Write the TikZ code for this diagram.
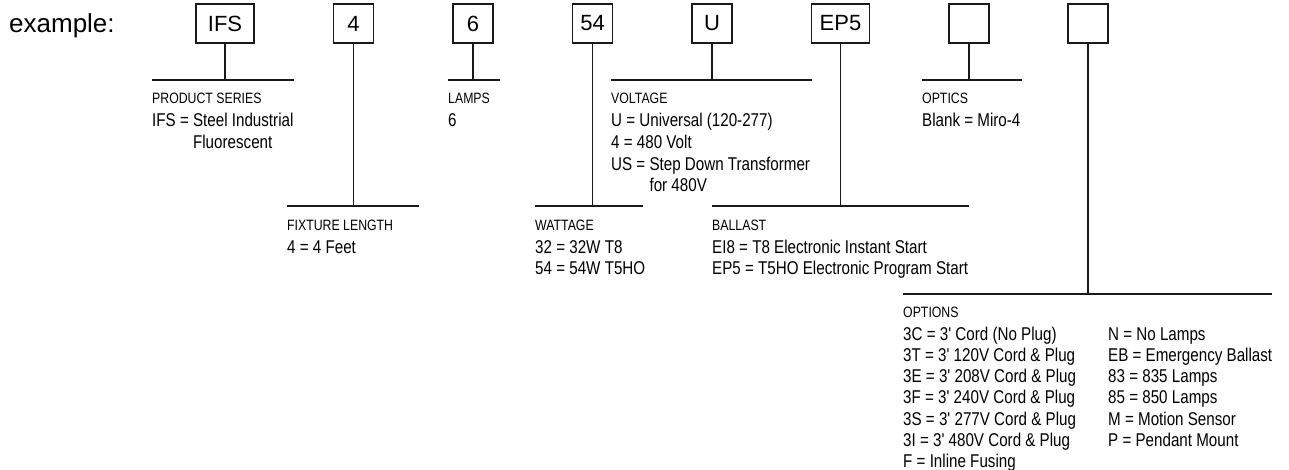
\documentclass[tikz,border=0pt]{standalone}
\usepackage{fontspec}
\setmainfont{Liberation Sans}
\newfontfamily\nar[FakeStretch=0.82,Ligatures=TeXOff]{Liberation Sans}
\begin{document}
\begin{tikzpicture}[x=1pt,y=-1pt,
  ln/.style={line width=1.1pt, draw=black!90},
  codebox/.style={draw=black!90, line width=1.1pt, minimum height=39pt, inner sep=0pt,
    font=\fontsize{22}{26}\selectfont},
  sbox/.style={codebox, minimum width=40pt},
  wbox/.style={codebox, minimum width=58pt},
  head/.style={anchor=base west, inner sep=0pt, font=\nar\fontsize{15}{18}\selectfont},
  val/.style={anchor=base west, inner sep=0pt, font=\nar\fontsize{18.5}{22}\selectfont},
  big/.style={anchor=base west, inner sep=0pt, font=\fontsize{26}{30}\selectfont}]
\useasboundingbox (0,0) rectangle (1289,470);

\node[big] (ex) at (9,33) {example:};

% code boxes
\node[wbox] (b1) at (225,23.5) {IFS};
\node[sbox] (b2) at (353.5,23.5) {4};
\node[sbox] (b3) at (473,23.5) {6};
\node[sbox] (b4) at (592.5,23.5) {54};
\node[sbox] (b5) at (712,23.5) {U};
\node[wbox] (b6) at (840.5,23.5) {EP5};
\node[sbox] (b7) at (969,23.5) {};
\node[sbox] (b8) at (1088,23.5) {};

% horizontal rules
\coordinate (h1l) at (152,80);  \coordinate (h1r) at (294,80);
\coordinate (h2l) at (287,206); \coordinate (h2r) at (419,206);
\coordinate (h3l) at (448,80);  \coordinate (h3r) at (500,80);
\coordinate (h4l) at (535,206); \coordinate (h4r) at (643,206);
\coordinate (h5l) at (611,80);  \coordinate (h5r) at (812,80);
\coordinate (h6l) at (712,206); \coordinate (h6r) at (969,206);
\coordinate (h7l) at (922,80);  \coordinate (h7r) at (1022,80);
\coordinate (h8l) at (903,294); \coordinate (h8r) at (1272,294);

\foreach \i in {1,...,8}{
  \draw[ln] (h\i l) -- (h\i r);
  \draw[ln] (b\i.south) -- (b\i.south |- h\i l);
}

% PRODUCT SERIES
\node[head] (t1h) at (152,104) {PRODUCT SERIES};
\node[val] (t1a) at (152,127) {IFS = Steel Industrial};
\node[val] (t1b) at (152,148.6) {\phantom{IFS = }Fluorescent};

% FIXTURE LENGTH
\node[head] (t2h) at (287,230) {FIXTURE LENGTH};
\node[val] (t2a) at (287,253) {4 = 4 Feet};

% LAMPS
\node[head] (t3h) at (448,104) {LAMPS};
\node[val] (t3a) at (448,127) {6};

% WATTAGE
\node[head] (t4h) at (535,230) {WATTAGE};
\node[val] (t4a) at (535,253) {32 = 32W T8};
\node[val] (t4b) at (535,274.6) {54 = 54W T5HO};

% VOLTAGE
\node[head] (t5h) at (611,104) {VOLTAGE};
\node[val] (t5a) at (611,127) {U = Universal (120-277)};
\node[val] (t5b) at (611,148.6) {4 = 480 Volt};
\node[val] (t5c) at (611,170.2) {US = Step Down Transformer};
\node[val] (t5d) at (611,191.8) {\phantom{US = }for 480V};

% BALLAST
\node[head] (t6h) at (712,230) {BALLAST};
\node[val] (t6a) at (712,253) {EI8 = T8 Electronic Instant Start};
\node[val] (t6b) at (712,274.6) {EP5 = T5HO Electronic Program Start};

% OPTICS
\node[head] (t7h) at (922,104) {OPTICS};
\node[val] (t7a) at (922,127) {Blank = Miro-4};

% OPTIONS
\node[head] (t8h) at (903,317) {OPTIONS};
\foreach \t [count=\i from 0] in {{3C = 3' Cord (No Plug)},{3T = 3' 120V Cord \& Plug},
  {3E = 3' 208V Cord \& Plug},{3F = 3' 240V Cord \& Plug},{3S = 3' 277V Cord \& Plug},
  {3I = 3' 480V Cord \& Plug},{F = Inline Fusing}}
  \node[val] (oa\i) at (903,340+21.3*\i) {\t};
\foreach \t [count=\i from 0] in {{N = No Lamps},{EB = Emergency Ballast},{83 = 835 Lamps},
  {85 = 850 Lamps},{M = Motion Sensor},{P = Pendant Mount}}
  \node[val] (ob\i) at (1108,340+21.3*\i) {\t};
\end{tikzpicture}
\end{document}
